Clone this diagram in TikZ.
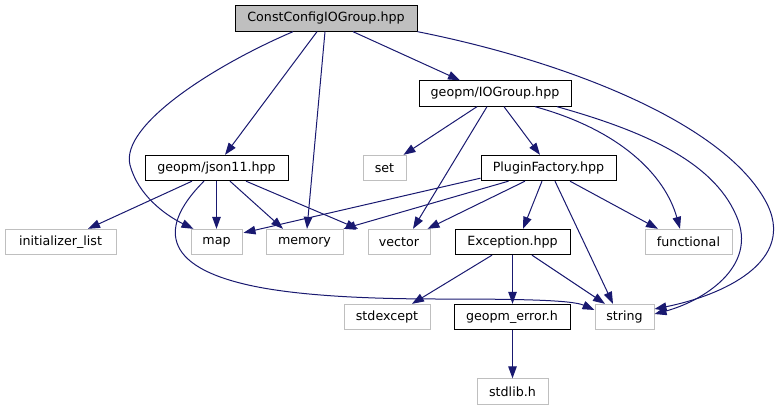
\documentclass[tikz,border=0pt]{standalone}
\usepackage{fontspec}
\setmainfont{DejaVu Sans}
\usetikzlibrary{arrows.meta,calc}
\definecolor{edgeblue}{HTML}{191970}
\definecolor{sysgray}{HTML}{BFBFBF}
\begin{document}
\begin{tikzpicture}[x=0.75pt,y=-0.75pt,
  box/.style={draw=black,fill=white,line width=0.75pt,minimum height=19pt,inner sep=0pt,font=\fontsize{9.5pt}{11pt}\selectfont},
  sys/.style={box,draw=sysgray},
  root/.style={box,fill=sysgray},
  dep/.style={draw=edgeblue,line width=0.75pt,-{Triangle[length=9pt,width=6.4pt]},fill=none}]
\useasboundingbox (0,0) rectangle (779,411);
% nodes
\node[root,minimum width=136.5pt] (const) at (326,18.5) {ConstConfigIOGroup.hpp};
\node[box,minimum width=114pt] (io) at (495,93.5) {geopm/IOGroup.hpp};
\node[box,minimum width=107.25pt] (json) at (216.5,168) {geopm/json11.hpp};
\node[sys,minimum width=32.25pt] (set) at (384.5,168) {set};
\node[box,minimum width=101.25pt] (pf) at (548.5,168) {PluginFactory.hpp};
\node[sys,minimum width=83.25pt] (init) at (60.5,242) {initializer\_list};
\node[sys,minimum width=38.25pt] (map) at (216.5,242) {map};
\node[sys,minimum width=57.75pt] (mem) at (304.5,242) {memory};
\node[sys,minimum width=46.5pt] (vec) at (399,242) {vector};
\node[box,minimum width=86.25pt] (exc) at (512.5,242) {Exception.hpp};
\node[sys,minimum width=65.25pt] (func) at (688.5,242) {functional};
\node[sys,minimum width=64.5pt] (stdexc) at (387,317) {stdexcept};
\node[box,minimum width=87pt] (gerr) at (512,317) {geopm\_error.h};
\node[sys,minimum width=44.25pt] (str) at (624.5,317) {string};
\node[sys,minimum width=53.25pt] (stdlib) at (512.5,391.5) {stdlib.h};
% edges from root
\draw[dep] ($(const.south)+(-9,0)$) -- ($(json.north)+(8.5,0)$);
\draw[dep] ($(const.south)+(-33,0)$) .. controls (215,65) and (120,125) .. (130,165)
   .. controls (138,195) and (165,215) .. ($(map.north west)+(3,0)$);
\draw[dep] ($(const.south)+(-1,0)$) -- ($(mem.north)+(2.5,0)$);
\draw[dep] ($(const.south)+(27,0)$) -- ($(io.north)+(-35,0)$);
\draw[dep] (const.south east) .. controls (560,60) and (720,120) .. (765,200)
   .. controls (800,262) and (720,296) .. ($(str.east)+(0,-8)$);
% edges from IOGroup
\draw[dep] ($(io.south)+(-18,0)$) -- ($(set.north east)+(-3,0)$);
\draw[dep] ($(io.south)+(-8,0)$) -- ($(vec.north)+(14,0)$);
\draw[dep] ($(io.south)+(9,0)$) -- ($(pf.north)+(-8.5,0)$);
\draw[dep] ($(io.south)+(40,0)$) .. controls (620,130) and (665,175) .. ($(func.north)+(-8.5,0)$);
\draw[dep] ($(io.south)+(62,0)$) .. controls (640,130) and (712,160) .. (736,215)
   .. controls (760,268) and (700,302) .. ($(str.east)+(0,-3)$);
% edges from json11
\draw[dep] ($(json.south)+(-24.5,0)$) -- ($(init.north)+(27.5,0)$);
\draw[dep] (json.south) -- (map.north);
\draw[dep] ($(json.south)+(13.5,0)$) -- ($(mem.north)+(-21.5,0)$);
\draw[dep] ($(json.south)+(29.5,0)$) -- ($(vec.north)+(-41,0)$);
\draw[dep] ($(json.south)+(-12.5,0)$) .. controls (170,215) and (150,260) .. (240,283)
   .. controls (290,296) and (370,299) .. (440,299)
   .. controls (520,299) and (572,300) .. ($(str.west)+(0,-7)$);
% edges from PluginFactory
\draw[dep] ($(pf.south west)+(0,-3)$) -- ($(map.north east)+(1,4)$);
\draw[dep] ($(pf.south)+(-40,0)$) -- (mem.north east);
\draw[dep] ($(pf.south)+(-23.5,0)$) -- ($(vec.north east)+(-3,0)$);
\draw[dep] ($(pf.south)+(-6.5,0)$) -- ($(exc.north)+(10.5,0)$);
\draw[dep] ($(pf.south)+(6.5,0)$) -- ($(str.north)+(-11.5,0)$);
\draw[dep] ($(pf.south)+(21.5,0)$) -- ($(func.north)+(-30.5,0)$);
% edges from Exception
\draw[dep] ($(exc.south)+(-20.5,0)$) -- ($(stdexc.north)+(25,0)$);
\draw[dep] (exc.south) -- ($(gerr.north)+(0.5,0)$);
\draw[dep] ($(exc.south)+(19.5,0)$) -- ($(str.north)+(-19.5,0)$);
% geopm_error
\draw[dep] ($(gerr.south)+(0.5,0)$) -- (stdlib.north);
\end{tikzpicture}
\end{document}
